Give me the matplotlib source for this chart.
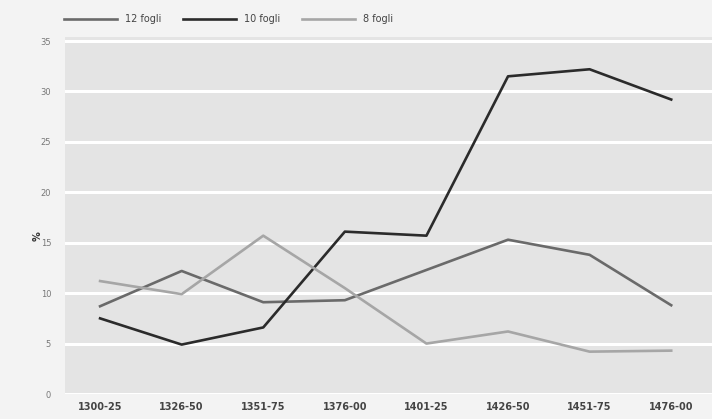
import numpy as np
import matplotlib
matplotlib.use("Agg")
import matplotlib.pyplot as plt

periods = ["1300-25", "1326-50", "1351-75", "1376-00", "1401-25", "1426-50", "1451-75", "1476-00"]
fogli_12 = [8.7, 12.2, 9.1, 9.3, 12.3, 15.3, 13.8, 8.8]
fogli_10 = [7.5, 4.9, 6.6, 16.1, 15.7, 31.5, 32.2, 29.2]
fogli_8  = [11.2, 9.9, 15.7, 10.5, 5.0, 6.2, 4.2, 4.3]
y_ticks = [0, 5, 10, 15, 20, 25, 30, 35]

fig = plt.figure(figsize=(7.12, 4.19), dpi=100, facecolor="#f3f3f3")
ax = fig.add_axes([65/712, 1 - 394/419, 1 - 65/712, (394 - 37)/419])
ax.set_facecolor("#e4e4e4")

x = np.arange(len(periods))
l12, = ax.plot(x, fogli_12, color="#6a6a6a", lw=1.9, label="12 fogli")
l10, = ax.plot(x, fogli_10, color="#2b2b2b", lw=1.9, label="10 fogli")
l8,  = ax.plot(x, fogli_8,  color="#a6a6a6", lw=1.9, label="8 fogli")

ax.set_xlim(-0.43, 7.5)
ax.set_ylim(0, 35.4)
ax.set_yticks(y_ticks)
ax.set_yticklabels([str(t) for t in y_ticks], fontsize=6, color="#777777")
ax.set_xticks(x)
ax.set_xticklabels(periods, fontsize=7, color="#444444", fontweight="bold")
ax.tick_params(axis="both", length=0)
ax.tick_params(axis="y", pad=10)
ax.tick_params(axis="x", pad=6)
ax.grid(axis="y", color="white", lw=2.2)
ax.set_axisbelow(True)
for s in ax.spines.values():
    s.set_visible(False)

fig.text(38/712, 1 - 236/419, "%", rotation=90, fontsize=7, color="#333333",
         ha="center", va="center", fontweight="bold")

fig.legend(handles=[l12, l10, l8], loc="center left", bbox_to_anchor=(55/712, 1 - 19/419),
           ncol=3, frameon=False, fontsize=7, handlelength=5.5, columnspacing=2.2,
           labelcolor="#444444", handletextpad=0.8)

fig.savefig("out.png", dpi=100, facecolor=fig.get_facecolor())
